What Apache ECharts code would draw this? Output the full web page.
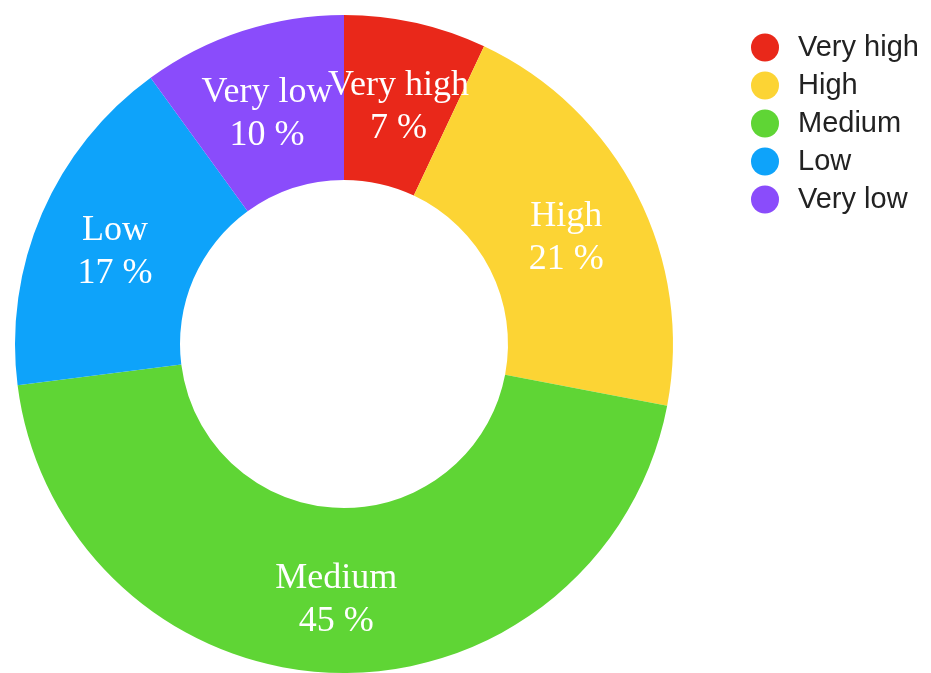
<!DOCTYPE html>
<html>
<head>
<meta charset="utf-8">
<script src="https://cdn.jsdelivr.net/npm/echarts@6/dist/echarts.min.js"></script>
<style>
  html, body { margin: 0; padding: 0; background: #fff; }
  #chart { width: 931px; height: 673px; }
</style>
</head>
<body>
<div id="chart"></div>
<script>
// Share of each rating level, in percent
const categories = ['Very high', 'High', 'Medium', 'Low', 'Very low'];
const values = [7, 21, 45, 17, 10];
const colors = ['#e9281a', '#fcd434', '#5fd535', '#0ea3fa', '#8a4cfb'];

const chart = echarts.init(document.getElementById('chart'));

chart.setOption({
  animation: false,
  color: colors,
  legend: {
    orient: 'vertical',
    left: 746,
    top: 28,
    icon: 'circle',
    itemWidth: 28,
    itemHeight: 28,
    itemGap: 9,
    textStyle: {
      fontFamily: 'Liberation Sans, Arial, sans-serif',
      fontSize: 29,
      color: '#222',
      padding: [0, 0, 0, 14]
    },
    data: categories
  },
  series: [{
    type: 'pie',
    center: [344, 344],
    radius: [164, 329],
    startAngle: 90,
    clockwise: true,
    avoidLabelOverlap: false,
    itemStyle: { borderWidth: 0 },
    label: {
      show: true,
      position: 'inside',
      formatter: '{b}\n{c} %',
      color: '#fff',
      fontFamily: 'Liberation Serif, Times New Roman, serif',
      fontSize: 36,
      lineHeight: 43,
      offset: [0, 7]
    },
    // the two top labels touch each other; keep both visible
    labelLayout: { hideOverlap: false },
    labelLine: { show: false },
    emphasis: { disabled: true },
    data: categories.map((name, i) => ({ name, value: values[i] }))
  }]
});
</script>
</body>
</html>
